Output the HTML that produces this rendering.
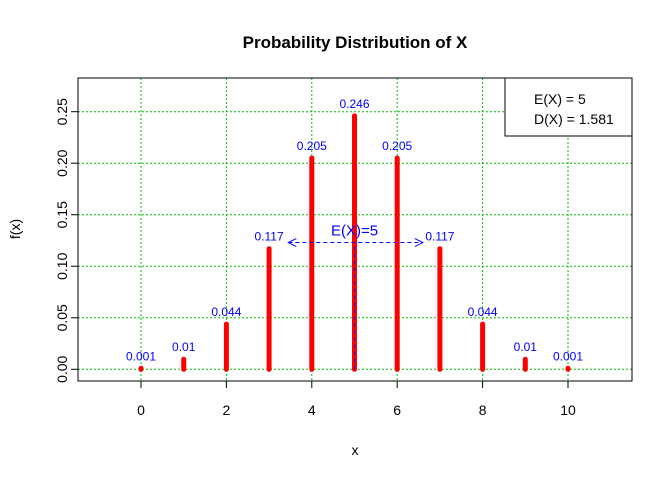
<!DOCTYPE html>
<html><head><meta charset="utf-8"><style>body{margin:0;background:#fff}svg{display:block;font-family:"Liberation Sans",Arial,sans-serif}</style></head>
<body>
<svg id="c" width="672" height="479"></svg>
<script>
const xs=[0,1,2,3,4,5,6,7,8,9,10];
const probs=[0.000977,0.00977,0.0439,0.117,0.205,0.246,0.205,0.117,0.0439,0.00977,0.000977];
const labels=["0.001","0.01","0.044","0.117","0.205","0.246","0.205","0.117","0.044","0.01","0.001"];
const xTicks=[0,2,4,6,8,10];
const yTicks=[0,0.05,0.10,0.15,0.20,0.25];
const yTickLabels=["0.00","0.05","0.10","0.15","0.20","0.25"];
const meanVal=5, arrowY=0.123, arrowFrom=3.45, arrowTo=6.6;
const L=78,T=78,R=632,B=381;
const X=v=>141+(v)*42.7;
const Y=v=>369.3-v*1030.4;
const svg=document.getElementById('c');
const NS='http://www.w3.org/2000/svg';
function mk(t,a,txt){const e=document.createElementNS(NS,t);for(const k in a)e.setAttribute(k,a[k]);if(txt!==undefined)e.textContent=txt;svg.appendChild(e);return e;}
let e;
e=mk('text',{x:355,y:48,'text-anchor':'middle','font-size':17,'font-weight':'bold'},'Probability Distribution of X');


xTicks.forEach(v=>{e=mk('line',{x1:X(v),x2:X(v),y1:T,y2:B,stroke:'#00c000','stroke-dasharray':'2,2'});

});
yTicks.forEach(v=>{e=mk('line',{x1:L,x2:R,y1:Y(v),y2:Y(v),stroke:'#00c000','stroke-dasharray':'2,2'});

});
xs.forEach((v,i)=>{e=mk('line',{x1:X(v),x2:X(v),y1:Y(0),y2:Y(probs[i]),stroke:'#ff0000','stroke-width':5,'stroke-linecap':'round'});


e=mk('text',{x:X(v),y:Y(probs[i])-8,'text-anchor':'middle','font-size':12,fill:'#0000ff'},labels[i]);

});
e=mk('line',{x1:X(meanVal),x2:X(meanVal),y1:Y(0),y2:Y(arrowY),stroke:'#0000ff','stroke-dasharray':'4,3'});


e=mk('line',{x1:X(arrowFrom),x2:X(arrowTo),y1:Y(arrowY),y2:Y(arrowY),stroke:'#0000ff','stroke-dasharray':'4,3'});


e=mk('path',{d:`M${X(arrowFrom)+8},${Y(arrowY)-4}L${X(arrowFrom)},${Y(arrowY)}L${X(arrowFrom)+8},${Y(arrowY)+4}M${X(arrowTo)-8},${Y(arrowY)-4}L${X(arrowTo)},${Y(arrowY)}L${X(arrowTo)-8},${Y(arrowY)+4}`,stroke:'#0000ff',fill:'none'});


e=mk('text',{x:X(meanVal),y:Y(arrowY)-7,'text-anchor':'middle','font-size':15,fill:'#0000ff'},'E(X)=5');


e=mk('rect',{x:L,y:T,width:R-L,height:B-T,fill:'none',stroke:'#000'});


xTicks.forEach(v=>{mk('line',{x1:X(v),x2:X(v),y1:B,y2:B+7,stroke:'#000'});
e=mk('text',{x:X(v),y:415,'text-anchor':'middle','font-size':14},String(v));

});
yTicks.forEach((v,i)=>{mk('line',{x1:L-7,x2:L,y1:Y(v),y2:Y(v),stroke:'#000'});
e=mk('text',{x:0,y:0,'text-anchor':'middle','font-size':14,transform:`translate(67,${Y(v)}) rotate(-90)`},yTickLabels[i]);

});
e=mk('text',{x:355,y:455,'text-anchor':'middle','font-size':14},'x');


e=mk('text',{x:0,y:0,'text-anchor':'middle','font-size':14,transform:'translate(20,229) rotate(-90)'},'f(x)');


e=mk('rect',{x:505,y:78,width:127,height:58,fill:'#fff',stroke:'#000'});


e=mk('text',{x:534,y:104,'font-size':14},'E(X) = 5');


e=mk('text',{x:534,y:124,'font-size':14},'D(X) = 1.581');


</script>
</body></html>
